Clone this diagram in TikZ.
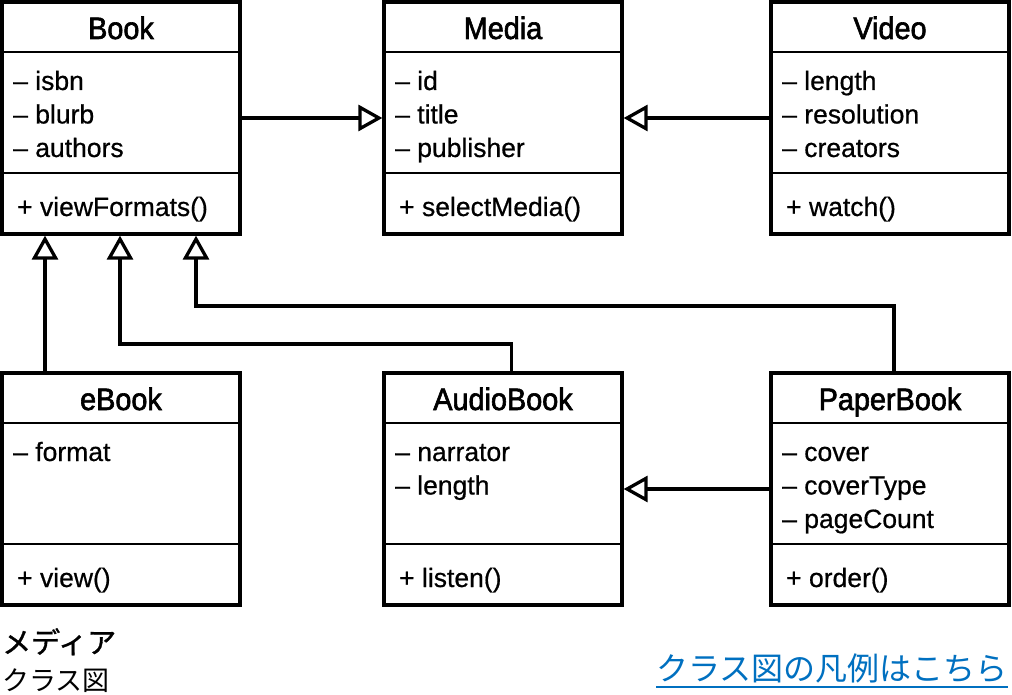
\documentclass[tikz,border=0pt]{standalone}
\usepackage{fontspec}
\setmainfont{Liberation Sans}[FakeBold=0.6]
\newfontfamily\titlefont{Liberation Sans}[FakeStretch=0.93,FakeBold=2]
\newfontfamily\cjkfont{Noto Sans CJK JP}
\newfontfamily\cjkbold{Noto Sans CJK JP}[FakeBold=1.2]
\usetikzlibrary{arrows.meta}
\definecolor{linkblue}{RGB}{0,112,192}
\tikzset{
  classbox/.style={draw=black, line width=3.3pt, fill=white, minimum width=238pt, minimum height=232pt, inner sep=0pt},
  divider/.style={draw=black, line width=2.8pt},
  titletext/.style={inner sep=0pt, anchor=base, font=\titlefont\fontsize{31}{31}\selectfont},
  attrtext/.style={inner sep=0pt, anchor=base west, font=\fontsize{26.5}{26.5}\selectfont},
  gen/.style={draw=black, line width=3.3pt, -{Triangle[open, length=24pt, width=26pt]}},
}
\newcommand\mkclass[6]{%
  \node[classbox] (#1) at (#2+119,#3+116) {};
  \draw[divider] (#2,#3+50) -- (#2+238,#3+50);
  \draw[divider] (#2,#3+171) -- (#2+238,#3+171);
  \node[titletext] (#1-t) at (#2+119,#3+37) {#4};
  \foreach \txt [count=\i] in {#5} {
    \node[attrtext] (#1-a\i) at (#2+11,{#3+88+33.5*(\i-1)}) {\txt};
  }
  \node[attrtext] (#1-m) at (#2+15,#3+214) {#6};
}
\begin{document}
\begin{tikzpicture}[x=1pt,y=-1pt]
\useasboundingbox (0,0) rectangle (1012,695);
\mkclass{book}{2}{2}{Book}{– isbn,– blurb,– authors}{+ viewFormats()}
\mkclass{media}{384}{2}{Media}{– id,– title,– publisher}{+ selectMedia()}
\mkclass{video}{771}{2}{Video}{– length,– resolution,– creators}{+ watch()}
\mkclass{ebook}{2}{373}{eBook}{– format}{+ view()}
\mkclass{audio}{384}{373}{AudioBook}{– narrator,– length}{+ listen()}
\mkclass{paper}{771}{373}{PaperBook}{– cover,– coverType,– pageCount}{+ order()}
\coordinate (j1) at (120,344);
\coordinate (j2) at (196,306);
\draw[gen] (book) -- (media);
\draw[gen] (video) -- (media);
\draw[gen] (paper) -- (audio);
\draw[gen] ([xshift=-76pt]ebook.north) -- ([xshift=-76pt]book.south);
\draw[gen] ([xshift=8.5pt]audio.north) |- (j1) -- (j1 |- book.south);
\draw[gen] ([xshift=4pt]paper.north) |- (j2) -- (j2 |- book.south);
\node[inner sep=0pt, anchor=base west, font=\cjkbold\fontsize{29}{29}\selectfont] (fmedia) at (2,653) {メディア};
\node[inner sep=0pt, anchor=base west, font=\cjkfont\fontsize{27}{27}\selectfont] (fclass) at (2,690) {クラス図};
\node[inner sep=0pt, anchor=base east, text=linkblue, font=\cjkfont\fontsize{32}{32}\selectfont] (flink) at (1008,680) {クラス図の凡例はこちら};
\draw[linkblue, line width=1.8pt] ([yshift=-7pt]flink.base west) -- ([yshift=-7pt]flink.base east);
\end{tikzpicture}
\end{document}
